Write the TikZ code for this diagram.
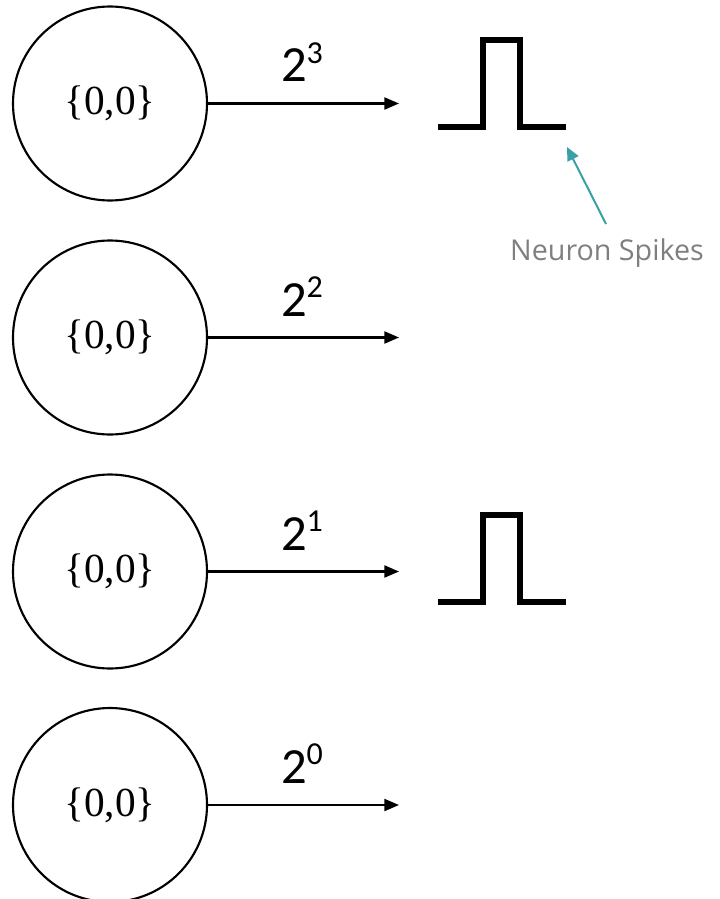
\documentclass[tikz,border=0pt]{standalone}
\usepackage{fontspec}
\setmainfont{Liberation Serif}
\newfontfamily\lblfont{Carlito}
\newfontfamily\notefont{Open Sans}
\usetikzlibrary{arrows.meta}
\definecolor{tealc}{HTML}{3AA0A8}
\definecolor{grayc}{HTML}{7F7F7F}
\tikzset{
  neuron/.style={circle, draw=black, line width=1.6pt, minimum size=194*0.75pt, inner sep=0pt,
    font=\fontsize{31}{35}\selectfont},
  weight/.style={->, >={Triangle[length=11pt,width=9pt]}, line width=1.6pt},
  wlabel/.style={anchor=base, inner sep=0pt, font=\lblfont\fontsize{38}{42}\selectfont},
  spike/.style={line width=4pt, line join=miter, draw=black},
  pointer/.style={->, >={Triangle[length=10pt,width=9pt]}, line width=1.5pt, draw=tealc},
}
\newcommand{\wpow}[1]{2\raisebox{0.36em}{\fontsize{24}{27}\selectfont #1}}
\begin{document}
\begin{tikzpicture}[x=0.75pt, y=-0.75pt]
\useasboundingbox (0,0) rectangle (720,899);
\begin{scope}
\clip (0,0) rectangle (720,899);
% neurons
\node[neuron] (n1) at (110,103.5) {\{0,0\}};
\node[neuron] (n2) at (110,337.5) {\{0,0\}};
\node[neuron] (n3) at (110,571.5) {\{0,0\}};
\node[neuron] (n4) at (110,805)   {\{0,0\}};
% arrow ends
\coordinate (e1) at (399,103.5);
\coordinate (e2) at (399,337.5);
\coordinate (e3) at (399,571.5);
\coordinate (e4) at (399,805);
\draw[weight] (n1.east) -- (e1);
\draw[weight] (n2.east) -- (e2);
\draw[weight] (n3.east) -- (e3);
\draw[weight] (n4.east) -- (e4);
% labels
\node[wlabel] (l1) at (302,82) {\wpow{3}};
\node[wlabel] (l2) at (302,316) {\wpow{2}};
\node[wlabel] (l3) at (302,550) {\wpow{1}};
\node[wlabel] (l4) at (302,783) {\wpow{0}};
% spikes
\draw[spike] (438,127) -- (483,127) -- (483,40) -- (520,40) -- (520,127) -- (566,127);
\coordinate (s1) at (567,147);
\draw[spike] (438,602) -- (483,602) -- (483,515) -- (520,515) -- (520,602) -- (566,602);
% annotation
\node[font=\notefont\fontsize{21.5}{24}\selectfont, text=grayc, inner sep=0pt] (ns) at (607,253) {Neuron Spikes};
\coordinate (t1) at (606,224);
\draw[pointer] (t1) -- (s1);
\end{scope}
\end{tikzpicture}
\end{document}
